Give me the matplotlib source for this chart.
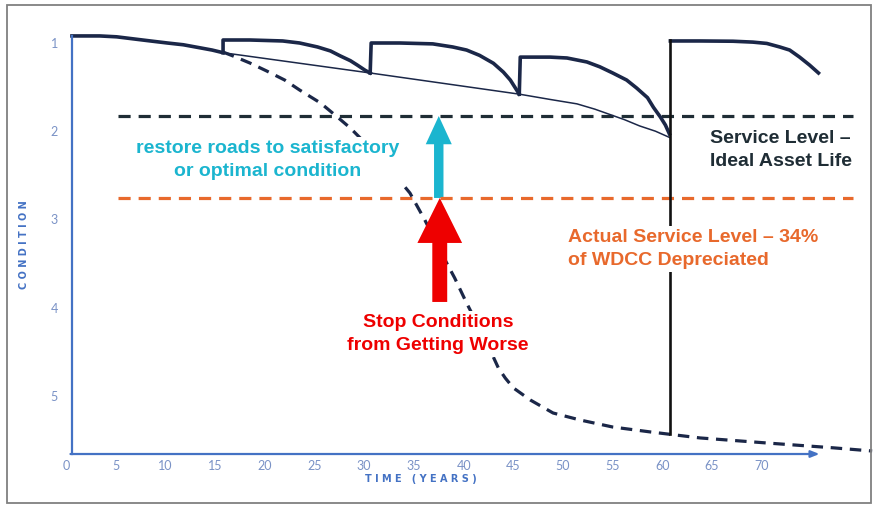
import matplotlib
matplotlib.use("Agg")
import matplotlib.pyplot as plt
from matplotlib.patches import FancyArrow, Rectangle

# ---- data (years, condition) ----
x_ticks = [0, 5, 10, 15, 20, 25, 30, 35, 40, 45, 50, 55, 60, 65, 70]
y_ticks = [1, 2, 3, 4, 5]

# original asset, first life, then treatments pulling it back up
seg1_t = [0.6, 3.4, 5.1, 6.9, 8.5, 10.2, 11.8, 13.5, 14.7, 15.8]
seg1_c = [0.92, 0.92, 0.93, 0.955, 0.977, 1.0, 1.02, 1.055, 1.08, 1.11]
seg2_t = [15.8, 15.8, 18.5, 21.8, 23.5, 25.3, 26.6, 27.6, 28.6, 29.3, 30.1, 30.6]
seg2_c = [1.11, 0.966, 0.966, 0.977, 1.0, 1.045, 1.09, 1.147, 1.20, 1.25, 1.31, 1.34]
seg3_t = [30.6, 30.7, 33.6, 36.9, 38.9, 40.3, 41.6, 43.0, 44.0, 44.7, 45.6]
seg3_c = [1.34, 1.0, 1.0, 1.01, 1.045, 1.08, 1.14, 1.23, 1.33, 1.42, 1.58]
seg4_t = [45.6, 45.7, 48.7, 50.4, 52.4, 53.7, 55.0, 56.4, 57.4, 58.5, 59.1,
          59.8, 60.3, 60.7]
seg4_c = [1.58, 1.16, 1.16, 1.17, 1.215, 1.27, 1.34, 1.42, 1.51, 1.62, 1.73,
          1.84, 1.93, 2.03]
seg5_t = [60.8, 63.8, 67.1, 69.1, 70.5, 71.8, 72.8, 73.8, 74.8, 75.7]
seg5_c = [0.977, 0.977, 0.98, 0.99, 1.005, 1.045, 1.08, 1.16, 1.25, 1.34]

# thin line joining the treatment points
thin_t = [15.8, 30.6, 45.6, 48.7, 51.4, 53.2, 54.7, 56.2, 57.7, 59.3, 60.7]
thin_c = [1.11, 1.34, 1.58, 1.64, 1.69, 1.75, 1.81, 1.87, 1.94, 2.0, 2.07]

# renewal at ~61 years
renew_t = 60.8
renew_c = [0.966, 5.43]

# no-maintenance deterioration
decay_t = [15.8, 16.8, 18.5, 20.2, 22.0, 23.5, 25.6, 27.3, 28.6, 30.1, 31.6,
           33.1, 34.6, 36.1, 37.6, 39.1, 40.3, 42.2, 43.5, 44.2, 45.0, 46.7,
           49.0, 51.7, 55.0, 58.8, 63.8, 70.5, 77.2, 81.1]
decay_c = [1.103, 1.147, 1.227, 1.318, 1.42, 1.533, 1.68, 1.839, 1.964, 2.134,
           2.304, 2.497, 2.701, 3.007, 3.347, 3.664, 3.948, 4.367, 4.685, 4.80,
           4.91, 5.047, 5.195, 5.274, 5.354, 5.41, 5.478, 5.535, 5.59, 5.626]

service_level = 1.828
actual_level = 2.757
line_span = [5.2, 79.2]

navy = "#1b2748"
slate = "#1f2d35"
orange = "#e8692c"
cyan = "#1bb5cf"
red = "#ee0000"
blue = "#4472c4"
tick_col = "#7a92c6"

fig = plt.figure(figsize=(8.81, 5.12), dpi=100)
ax = fig.add_axes([0, 0, 1, 1])
ax.set_xlim(-6.64, 81.99)
ax.set_ylim(6.3175, 0.5125)

for s in ["top", "right"]:
    ax.spines[s].set_visible(False)
ax.spines["left"].set_position(("data", 0.6))
ax.spines["left"].set_bounds(0.92, 5.66)
ax.spines["left"].set_color(blue)
ax.spines["left"].set_linewidth(1.6)
ax.spines["bottom"].set_position(("data", 5.66))
ax.spines["bottom"].set_visible(False)
ax.annotate("", xy=(75.8, 5.66), xytext=(0.45, 5.66),
            arrowprops=dict(arrowstyle="-|>,head_length=0.5,head_width=0.2",
                            color=blue, lw=1.6, shrinkA=0, shrinkB=0))

ax.set_xticks(x_ticks)
ax.set_yticks(y_ticks)
ax.tick_params(axis="x", length=0, pad=4, labelsize=9, labelcolor=tick_col)
ax.tick_params(axis="y", length=0, pad=10, labelsize=9, labelcolor=tick_col)
for lab in ax.get_xticklabels() + ax.get_yticklabels():
    lab.set_fontfamily("Lato")

# service level lines
ax.plot(line_span, [service_level] * 2, color=slate, lw=2.3, dashes=(3.8, 2.5))
ax.plot(line_span, [actual_level] * 2, color=orange, lw=2.3, dashes=(3.8, 2.5))

# curves
ax.plot(decay_t, decay_c, color=navy, lw=2.3, dashes=(3.6, 2.4))
ax.plot(thin_t, thin_c, color=navy, lw=1.1)
for tt, cc in [(seg1_t, seg1_c), (seg2_t, seg2_c), (seg3_t, seg3_c),
               (seg4_t, seg4_c), (seg5_t, seg5_c)]:
    ax.plot(tt, cc, color=navy, lw=2.6, solid_joinstyle="round")
ax.plot([renew_t, renew_t], renew_c, color="#111111", lw=1.9)

# arrows
ax.add_patch(FancyArrow(37.5, actual_level, 0, service_level - actual_level,
                        width=0.95, head_width=2.62, head_length=0.32,
                        length_includes_head=True, color=cyan, lw=0))
ax.add_patch(FancyArrow(37.6, 3.936, 0, actual_level - 3.936,
                        width=1.5, head_width=4.5, head_length=0.51,
                        length_includes_head=True, color=red, lw=0, zorder=3))

# annotations (white boxes hide the lines behind them, like the original)
box = dict(facecolor="white", edgecolor="none", pad=2)
tkw = dict(fontsize=14, fontweight="bold", family="Liberation Sans",
           va="center", linespacing=1.45, zorder=4)
ax.text(20.3, 2.325, "restore roads to satisfactory\nor optimal condition",
        color=cyan, ha="center", bbox=box, **tkw)
ax.text(64.8, 2.21, "Service Level \u2013\nIdeal Asset Life",
        color=slate, ha="left", **tkw)
ax.text(50.5, 3.335, "Actual Service Level \u2013 34%\nof WDCC Depreciated",
        color=orange, ha="left", bbox=box, **tkw)
ax.text(37.4, 4.30, "Stop Conditions\nfrom Getting Worse",
        color=red, ha="center", bbox=box, **tkw)

ax.text(35.7, 5.94, "T I M E   ( Y E A R S )", color=blue, fontsize=7,
        fontweight="bold", ha="center", va="center")
ax.text(-4.2, 3.29, "C O N D I T I O N", color=blue, fontsize=7,
        fontweight="bold", ha="center", va="center", rotation=90)

# outer frame
fig.patches.append(Rectangle((7 / 881, 9 / 512), 864 / 881, 498 / 512,
                             transform=fig.transFigure, fill=False,
                             edgecolor="#808080", lw=1.3))

fig.savefig("out.png", dpi=100)
